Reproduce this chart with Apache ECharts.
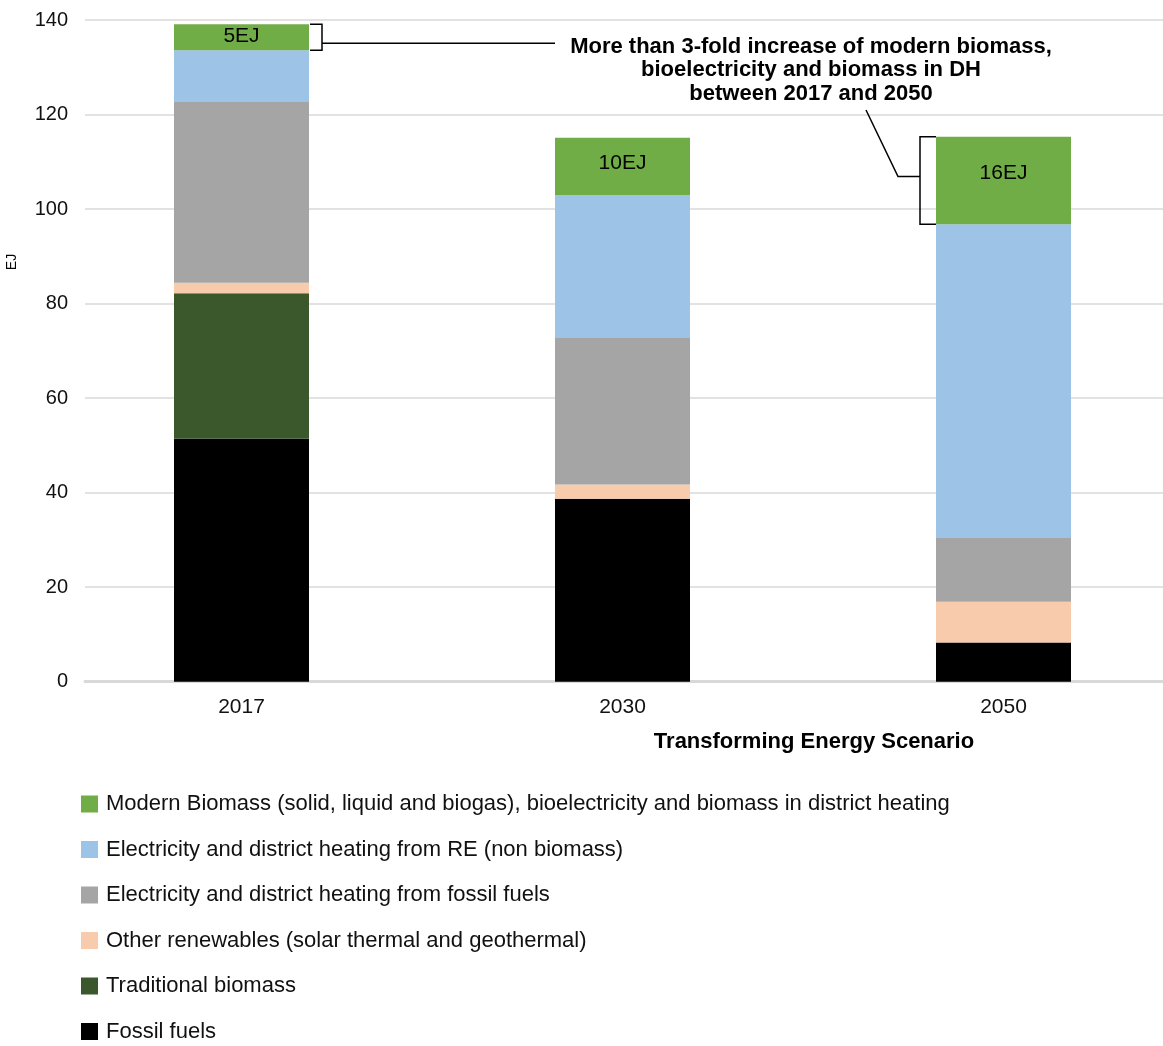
<!DOCTYPE html>
<html><head><meta charset="utf-8">
<script src="https://cdn.jsdelivr.net/npm/echarts@6/dist/echarts.min.js"></script>
<style>html,body{margin:0;padding:0;background:#fff;overflow:hidden;width:1163px;height:1046px}#c{width:1194px;height:1046px}</style>
</head><body><div id="c"></div>
<script>
const categories = ['2017', '2030', '2050'];
const fossilFuels = [51.4, 38.7, 8.3];
const traditionalBiomass = [30.8, 0, 0];
const otherRenewables = [2.2, 3.0, 8.6];
const elecFossil = [38.4, 31.2, 13.5];
const elecRE = [10.8, 30.1, 66.4];
const modernBiomass = [5.5, 12.1, 18.5];
const segmentLabels = ['5EJ', '10EJ', '16EJ'];
const seriesNames = [
  'Fossil fuels',
  'Traditional biomass',
  'Other renewables (solar thermal and geothermal)',
  'Electricity and district heating from fossil fuels',
  'Electricity and district heating from RE (non biomass)',
  'Modern Biomass (solid, liquid and biogas), bioelectricity and biomass in district heating'
];
const seriesValues = [fossilFuels, traditionalBiomass, otherRenewables, elecFossil, elecRE, modernBiomass];
const seriesColors = ['#000000', '#3B582C', '#F8CBAD', '#A5A5A5', '#9DC3E6', '#70AD47'];
const yMin = 0, yMax = 140, yInterval = 20;
const annotationText = 'More than 3-fold increase of modern biomass,\nbioelectricity and biomass in DH\nbetween 2017 and 2050';
const xAxisTitle = 'Transforming Energy Scenario';
const yAxisTitle = 'EJ';

const FONT = '"Liberation Sans", Arial, sans-serif';
const BAR_W = 135;
const labelOffsets = [[0, -1], [0, -3], [0, -7]];

const series = seriesValues.map((vals, i) => {
  const s = {
    name: seriesNames[i],
    type: 'bar',
    stack: 'total',
    xAxisIndex: 1,
    yAxisIndex: 1,
    barWidth: BAR_W,
    data: vals,
    itemStyle: { color: seriesColors[i] },
    emphasis: { disabled: true },
    animation: false
  };
  if (i === seriesValues.length - 1) {
    s.data = vals.map((v, j) => ({ value: v, label: { offset: labelOffsets[j] } }));
    s.label = {
      show: true,
      position: 'inside',
      formatter: p => segmentLabels[p.dataIndex],
      color: '#000',
      fontSize: 21,
      fontFamily: FONT
    };
  }
  return s;
});

const option = {
  animation: false,
  backgroundColor: '#fff',
  textStyle: { fontFamily: FONT },
  grid: [
    { left: 85, right: 31, top: 20, bottom: 364.3 },
    { left: 51, right: 0, top: 20, bottom: 364.3 }
  ],
  xAxis: [
    {
      type: 'category', gridIndex: 0, data: categories,
      axisLine: { show: true, lineStyle: { color: '#d9d9d9', width: 3 } },
      axisTick: { show: false }, axisLabel: { show: false }
    },
    {
      type: 'category', gridIndex: 1, data: categories,
      axisLine: { show: false }, axisTick: { show: false },
      axisLabel: { fontSize: 21, color: '#111', margin: 15, fontFamily: FONT }
    }
  ],
  yAxis: [
    {
      type: 'value', gridIndex: 0, min: yMin, max: yMax, interval: yInterval,
      axisLine: { show: false }, axisTick: { show: false },
      axisLabel: { fontSize: 20, color: '#111', margin: 17, fontFamily: FONT },
      splitLine: { lineStyle: { color: '#d9d9d9', width: 1.5 } }
    },
    {
      type: 'value', gridIndex: 1, min: yMin, max: yMax, interval: yInterval, show: false,
      splitLine: { show: false }
    }
  ],
  legend: {
    orient: 'vertical',
    left: 81,
    top: 793,
    padding: 0,
    itemWidth: 17,
    itemHeight: 17,
    itemGap: 23.5,
    icon: 'rect',
    selectedMode: false,
    data: seriesNames.slice().reverse(),
    textStyle: { fontSize: 22, color: '#111', lineHeight: 22, padding: [0, 0, 0, 3], fontFamily: FONT }
  },
  series: series
};

const chart = echarts.init(document.getElementById('c'));
chart.setOption(option);

function px(cat, v) { return chart.convertToPixel({ xAxisIndex: 1, yAxisIndex: 1 }, [cat, v]); }
function totalAt(i) { return seriesValues.reduce((a, arr) => a + arr[i], 0); }
const half = BAR_W / 2;

// 2017 bracket
const t0 = totalAt(0);
const p0top = px(categories[0], t0);
const p0bot = px(categories[0], t0 - modernBiomass[0]);
const xr0 = p0top[0] + half;
const bx0 = xr0 + 13;
const stubY0 = (p0top[1] + p0bot[1]) / 2 + 6;

// 2050 bracket
const t2 = totalAt(2);
const p2top = px(categories[2], t2);
const p2bot = px(categories[2], t2 - modernBiomass[2]);
const xl2 = p2top[0] - half;
const bx2 = xl2 - 16;
const stubY2 = (p2top[1] + p2bot[1]) / 2 - 4;

const lineStyle = { stroke: '#000', lineWidth: 1.5, fill: null };

chart.setOption({
  graphic: [
    { type: 'polyline', shape: { points: [[xr0 + 1, p0top[1]], [bx0, p0top[1]], [bx0, p0bot[1]], [xr0 + 1, p0bot[1]]] }, style: lineStyle, silent: true },
    { type: 'polyline', shape: { points: [[bx0, stubY0], [555, stubY0]] }, style: lineStyle, silent: true },
    { type: 'polyline', shape: { points: [[xl2, p2top[1]], [bx2, p2top[1]], [bx2, p2bot[1]], [xl2, p2bot[1]]] }, style: lineStyle, silent: true },
    { type: 'polyline', shape: { points: [[bx2, stubY2], [bx2 - 22, stubY2], [866, 110]] }, style: lineStyle, silent: true },
    {
      type: 'text', silent: true,
      style: { text: annotationText, x: 811, y: 35, textAlign: 'center', textVerticalAlign: 'top',
        font: 'bold 22px ' + FONT, lineHeight: 23.5, fill: '#000' }
    },
    {
      type: 'text', silent: true,
      style: { text: xAxisTitle, x: 814, y: 742, textAlign: 'center', textVerticalAlign: 'middle',
        font: 'bold 22px ' + FONT, fill: '#000' }
    },
    {
      type: 'text', silent: true, x: 12, y: 262, rotation: Math.PI / 2,
      style: { text: yAxisTitle, x: 0, y: 0, textAlign: 'center', textVerticalAlign: 'middle',
        font: '14px ' + FONT, fill: '#000' }
    }
  ]
});
</script>
</body></html>
